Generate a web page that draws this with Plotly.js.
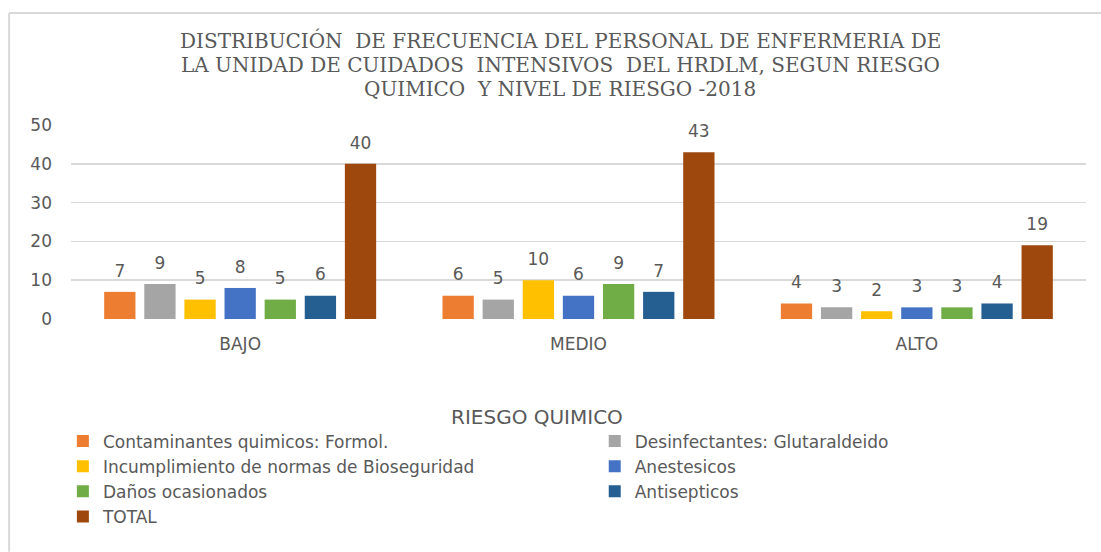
<!DOCTYPE html>
<html><head><meta charset="utf-8">
<script src="https://cdn.plot.ly/plotly-3.0.1.min.js"></script>
<style>body{margin:0;background:#fff}#c{width:1101px;height:552px}</style>
</head><body><div id="c"></div>
<script>
const categories = ["BAJO", "MEDIO", "ALTO"];
const seriesNames = ["Contaminantes quimicos: Formol.", "Desinfectantes: Glutaraldeido", "Incumplimiento de normas de Bioseguridad", "Anestesicos", "Daños ocasionados", "Antisepticos", "TOTAL"];
const formol = [7, 6, 4];
const glutaraldeido = [9, 5, 3];
const bioseguridad = [5, 10, 2];
const anestesicos = [8, 6, 3];
const danos = [5, 9, 3];
const antisepticos = [6, 7, 4];
const total = [40, 43, 19];
const colors = ["#ED7D31", "#A5A5A5", "#FFC000", "#4472C4", "#70AD47", "#255E91", "#9E480E"];
const values = [formol, glutaraldeido, bioseguridad, anestesicos, danos, antisepticos, total];
const legendOf = ["legend", "legend2", "legend", "legend2", "legend", "legend2", "legend"];
const titleLines = ["DISTRIBUCIÓN  DE FRECUENCIA DEL PERSONAL DE ENFERMERIA DE",
  "LA UNIDAD DE CUIDADOS  INTENSIVOS  DEL HRDLM, SEGUN RIESGO",
  "QUIMICO  Y NIVEL DE RIESGO -2018"];
const legendTitle = "RIESGO QUIMICO";

const font = "DejaVu Sans, Verdana, sans-serif";
const gray = "#595959";
const bars = values.map((v, i) => ({
  type: "bar", x: categories, y: v, name: seriesNames[i], legend: legendOf[i],
  marker: {color: colors[i]}, offsetgroup: "g" + i
}));
const labels = values.map((v, i) => ({
  type: "scatter", mode: "markers+text", x: categories, y: v, showlegend: false,
  offsetgroup: "g" + i, marker: {size: 16, opacity: 0, color: colors[i]},
  text: v.map(String), textposition: "top center", cliponaxis: false,
  textfont: {family: font, size: 17, color: gray}, hoverinfo: "skip"
}));

const lineY = [1.433, 1.309, 1.186];
const annotations = titleLines.map((t, k) => ({
  text: t, xref: "paper", yref: "paper", x: 0.482, y: lineY[k], xanchor: "center", yanchor: "middle",
  showarrow: false, font: {family: "DejaVu Serif, serif", size: 20, color: gray}
}));
annotations.push({text: legendTitle, xref: "paper", yref: "paper", x: 0.459, y: -0.505,
  xanchor: "center", yanchor: "middle", showarrow: false, font: {family: font, size: 20, color: gray}});

const legBase = {xanchor: "left", yanchor: "top", orientation: "v", traceorder: "normal",
  font: {family: font, size: 17, color: gray}, itemwidth: 30, bgcolor: "rgba(0,0,0,0)"};

const layout = {
  width: 1101, height: 552,
  margin: {l: 71, r: 15, t: 125, b: 233},
  paper_bgcolor: "#fff", plot_bgcolor: "#fff",
  barmode: "group", bargap: 0.17, bargroupgap: 0.22,
  scattermode: "group", scattergap: 0.17,
  xaxis: {tickfont: {family: font, size: 17, color: gray}, showline: false, ticks: "", ticklabelstandoff: 13},
  yaxis: {range: [0, 50], dtick: 10, showgrid: true, gridcolor: "#d9d9d9", gridwidth: 1.5,
    zeroline: false, ticks: "", tickfont: {family: font, size: 17, color: gray}, ticklabelstandoff: 18},
  showlegend: true,
  legend: Object.assign({}, legBase, {x: -0.008, y: -0.539}),
  legend2: Object.assign({}, legBase, {x: 0.516, y: -0.539}),
  annotations: annotations,
  shapes: [
    {type: "line", xref: "paper", yref: "paper", x0: -0.061, x1: 1.015, y0: 1.577, y1: 1.577, line: {color: "#d9d9d9", width: 2}},
    {type: "line", xref: "paper", yref: "paper", x0: -0.061, x1: -0.061, y0: 1.577, y1: -1.2, line: {color: "#d9d9d9", width: 2}}
  ]
};
Plotly.newPlot("c", bars.concat(labels), layout, {displayModeBar: false, staticPlot: true});
</script></body></html>
